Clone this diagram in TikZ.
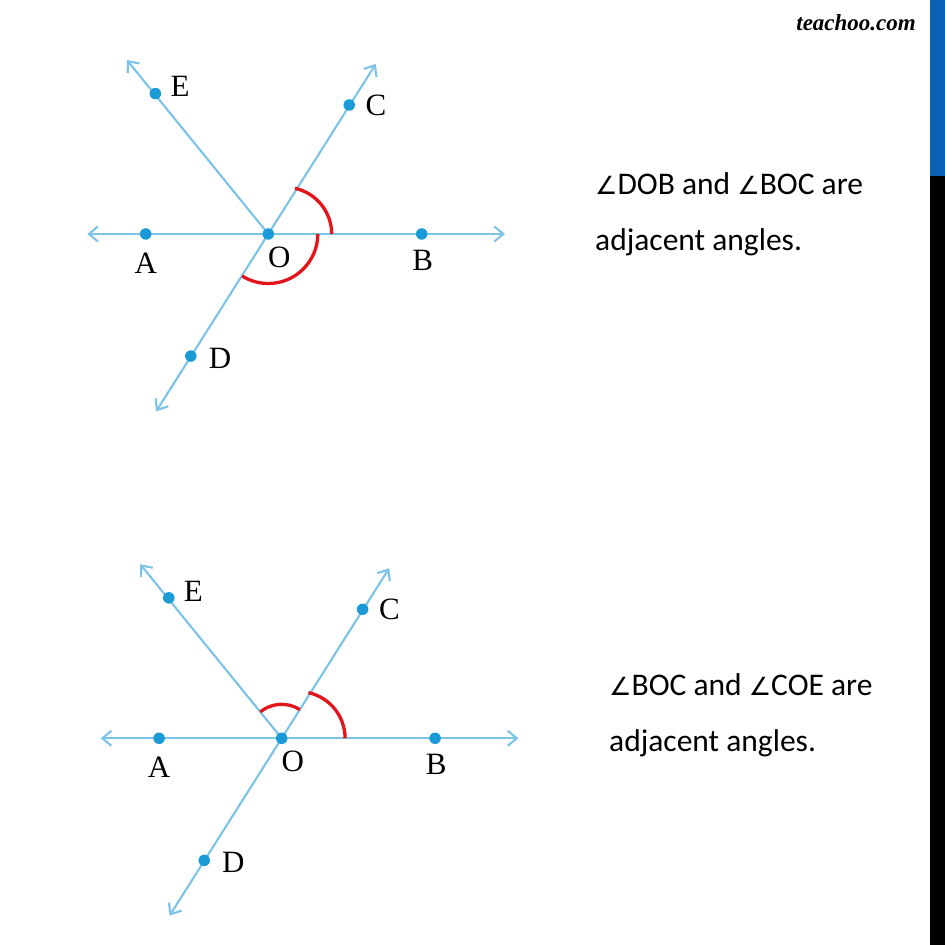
\documentclass[tikz,border=0pt]{standalone}
\usepackage{fontspec}
\setmainfont{Liberation Serif}
\newfontfamily\notefont{Carlito}
\newfontfamily\angfont{DejaVu Sans}
\usetikzlibrary{arrows.meta}

\definecolor{raycol}{HTML}{7CC3E8}
\definecolor{dotcol}{HTML}{1A9AD7}
\definecolor{arccol}{HTML}{E3151B}
\definecolor{barblue}{HTML}{0A62B5}

\newcommand{\angsign}{{\angfont\fontsize{25}{25}\selectfont ∠}}

\tikzset{
  ray/.style={raycol, line width=2.1pt},
  pt/.style={circle, fill=dotcol, inner sep=0pt, minimum size=11.5pt},
  lbl/.style={font=\fontsize{31}{31}\selectfont, inner sep=0pt},
  anglearc/.style={arccol, line width=3.3pt},
  note/.style={font=\notefont\fontsize{31.5}{31.5}\selectfont, anchor=base west, inner sep=0pt}
}

\begin{document}
\begin{tikzpicture}[x=1pt, y=1pt, >={Straight Barb[length=9pt,width=15pt]}]
  \useasboundingbox[fill=white] (0,0) rectangle (945,945);

  % side bar
  \fill[black] (929.5,0) rectangle (945,945);
  \fill[barblue] (929.5,769) rectangle (945,945);
  \node[font=\bfseries\itshape\fontsize{23}{23}\selectfont, anchor=base east, inner sep=0pt] (brand) at (916,914) {teachoo.com};

  % the two figures
  \foreach \d/\ox/\oy in {t/268.3/711, b/281.7/206.7}{
    \begin{scope}[shift={(\ox,\oy)}]
      \coordinate (\d O) at (0,0);
      \coordinate (\d A) at (-122.6,0);
      \coordinate (\d B) at (153.4,0);
      \coordinate (\d C) at (57.9:152.3);
      \coordinate (\d D) at (-122.4:144.6);
      \coordinate (\d E) at (128.8:180.2);
      \coordinate (\d tA) at (-181,0);
      \coordinate (\d tB) at (236.7,0);
      \coordinate (\d tC) at (57.7:201.2);
      \coordinate (\d tD) at (-122.3:209.8);
      \coordinate (\d tE) at (129.1:224.3);

      \draw[ray, <->] (\d tA) -- (\d tB);
      \draw[ray, <->] (\d tC) -- (\d tD);
      \draw[ray, ->] (\d O) -- (\d tE);

      \foreach \p in {O, A, B, C, D, E}
        \node[pt] (\d p\p) at (\d \p) {};

      \node[lbl] (\d lA) at (-122.6,-29) {A};
      \node[lbl] (\d lB) at (154.4,-26) {B};
      \node[lbl] (\d lC) at (107.7,129) {C};
      \node[lbl] (\d lD) at (-48.3,-124) {D};
      \node[lbl] (\d lE) at (-88.3,147.3) {E};
      \node[lbl] (\d lO) at (11,-23.3) {O};
    \end{scope}
  }

  % marked angles
  \draw[anglearc] ([xshift=49.5pt]tO) arc[start angle=0, end angle=-122, radius=49.5pt];
  \draw[anglearc] ([xshift=63.4pt]tO) arc[start angle=0, end angle=77.5, radius=46.8pt];
  \draw[anglearc] ([xshift=63.4pt]bO) arc[start angle=0, end angle=77.5, radius=46.8pt];
  \draw[anglearc] ([shift={(129:34pt)}]bO) arc[start angle=129, end angle=57.6, radius=34pt];

  % statements
  \node[note] (n1) at (595,750) {\angsign DOB and \angsign BOC are};
  \node[note] (n2) at (595,694) {adjacent angles.};
  \node[note] (n3) at (609,249) {\angsign BOC and \angsign COE are};
  \node[note] (n4) at (609,193) {adjacent angles.};
\end{tikzpicture}
\end{document}
